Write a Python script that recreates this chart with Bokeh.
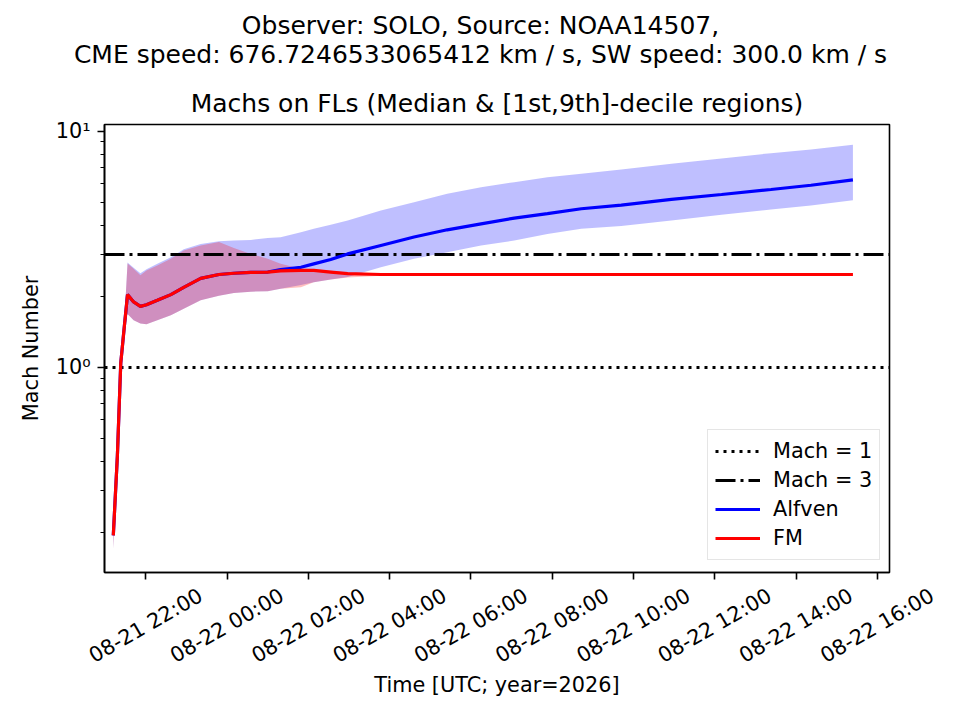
from datetime import datetime
import math
from bokeh.plotting import figure
from bokeh.layouts import column
from bokeh.models import Range1d, FixedTicker, CustomJSTickFormatter
from bokeh.core.properties import value
from bokeh.embed import file_html
from bokeh.resources import INLINE

# ---------------- data ----------------
title_line1 = "Observer: SOLO, Source: NOAA14507,"
title_line2 = "CME speed: 676.7246533065412 km / s, SW speed: 300.0 km / s"
axes_title = "Machs on FLs (Median & [1st,9th]-decile regions)"
x_label = "Time [UTC; year=2026]"
y_label = "Mach Number"

times = [
    "2026-08-21 21:12", "2026-08-21 21:18", "2026-08-21 21:23", "2026-08-21 21:28",
    "2026-08-21 21:33", "2026-08-21 21:42", "2026-08-21 21:52", "2026-08-21 22:01",
    "2026-08-21 22:17", "2026-08-21 22:37", "2026-08-21 22:56", "2026-08-21 23:21",
    "2026-08-21 23:48", "2026-08-22 00:10", "2026-08-22 00:35", "2026-08-22 01:00",
    "2026-08-22 01:19", "2026-08-22 01:49", "2026-08-22 02:08", "2026-08-22 02:33",
    "2026-08-22 02:58", "2026-08-22 03:47", "2026-08-22 04:36", "2026-08-22 05:25",
    "2026-08-22 06:15", "2026-08-22 07:04", "2026-08-22 07:53", "2026-08-22 08:43",
    "2026-08-22 09:42", "2026-08-22 10:56", "2026-08-22 12:10", "2026-08-22 13:23",
    "2026-08-22 14:22", "2026-08-22 15:24",
]

alfven_med = [0.194, 0.42, 1.04, 1.46, 2.03, 1.89, 1.81, 1.84, 1.92, 2.03, 2.18, 2.38,
              2.47, 2.50, 2.52, 2.53, 2.59, 2.65, 2.74, 2.86, 3.02, 3.28, 3.56, 3.82,
              4.05, 4.28, 4.47, 4.69, 4.86, 5.14, 5.39, 5.66, 5.90, 6.22]
alfven_lo = [0.17, 0.40, 1.00, 1.40, 1.68, 1.58, 1.53, 1.52, 1.58, 1.66, 1.77, 1.92,
             2.01, 2.06, 2.09, 2.10, 2.15, 2.23, 2.29, 2.35, 2.41, 2.65, 2.88, 3.07,
             3.28, 3.44, 3.67, 3.86, 3.96, 4.18, 4.42, 4.66, 4.84, 5.10]
alfven_hi = [0.21, 0.45, 1.08, 1.52, 2.78, 2.64, 2.50, 2.60, 2.74, 2.92, 3.16, 3.33,
             3.42, 3.44, 3.46, 3.53, 3.55, 3.73, 3.86, 4.01, 4.18, 4.61, 5.00, 5.43,
             5.79, 6.08, 6.38, 6.60, 6.88, 7.27, 7.66, 8.07, 8.36, 8.75]

fm_med = [0.194, 0.42, 1.04, 1.46, 2.03, 1.89, 1.81, 1.84, 1.92, 2.03, 2.18, 2.38,
          2.47, 2.50, 2.52, 2.53, 2.56, 2.57, 2.57, 2.53, 2.49, 2.47, 2.47, 2.47,
          2.47, 2.47, 2.47, 2.47, 2.47, 2.47, 2.47, 2.47, 2.47, 2.47]
fm_lo = [0.17, 0.40, 1.00, 1.40, 1.68, 1.58, 1.53, 1.52, 1.58, 1.66, 1.77, 1.92,
         2.01, 2.06, 2.09, 2.10, 2.15, 2.18, 2.29, 2.35, 2.40, 2.44, 2.45, 2.45,
         2.45, 2.45, 2.45, 2.45, 2.45, 2.45, 2.45, 2.45, 2.45, 2.45]
fm_hi = [0.21, 0.45, 1.08, 1.52, 2.75, 2.61, 2.45, 2.57, 2.70, 2.88, 3.12, 3.28,
         3.39, 3.20, 3.02, 2.88, 2.74, 2.61, 2.60, 2.56, 2.52, 2.50, 2.50, 2.50,
         2.50, 2.50, 2.50, 2.50, 2.50, 2.50, 2.50, 2.50, 2.50, 2.50]

mach_levels = [1.0, 3.0]
mach_labels = ["Mach = 1", "Mach = 3"]

x_tick_times = ["2026-08-21 22:00", "2026-08-22 00:00", "2026-08-22 02:00",
                "2026-08-22 04:00", "2026-08-22 06:00", "2026-08-22 08:00",
                "2026-08-22 10:00", "2026-08-22 12:00", "2026-08-22 14:00",
                "2026-08-22 16:00"]
x_tick_labels = ["08-21 22:00", "08-22 00:00", "08-22 02:00", "08-22 04:00",
                 "08-22 06:00", "08-22 08:00", "08-22 10:00", "08-22 12:00",
                 "08-22 14:00", "08-22 16:00"]
x_start = "2026-08-21 20:59"
x_end = "2026-08-22 16:18"
y_start, y_end = 0.135, 10.67
y_major = [1.0, 10.0]
y_major_labels = {1.0: "10\u2070", 10.0: "10\u00b9"}
y_minor = [0.2, 0.3, 0.4, 0.5, 0.6, 0.7, 0.8, 0.9, 2, 3, 4, 5, 6, 7, 8, 9]

# ---------------- helpers ----------------
FMT = "%Y-%m-%d %H:%M"
EPOCH = datetime(1970, 1, 1)


def to_dt(s):
    return datetime.strptime(s, FMT)


def to_ms(s):
    return (to_dt(s) - EPOCH).total_seconds() * 1000.0


t = [to_dt(s) for s in times]

FONT = "DejaVu Sans"
W = 944
FL, FR = 104, 55            # frame left / right borders
FW = W - FL - FR            # 785
FH = 448                    # frame height
TOP_H = 118                 # title strip
P_TOP, P_BOT = 6, 12        # main-figure borders above / below frame
BOT_H = 120                 # tick-label strip


def strip(height, x_range, y_range):
    f = figure(width=W, height=height, x_range=x_range, y_range=y_range,
               output_backend="svg", toolbar_location=None, min_border=0,
               x_axis_location=None, y_axis_location=None, frame_align=False)
    f.xgrid.visible = False
    f.ygrid.visible = False
    f.outline_line_color = None
    f.background_fill_color = "white"
    f.border_fill_color = "white"
    return f


# ---------------- title strip ----------------
top = strip(TOP_H, Range1d(0, W), Range1d(TOP_H, 0))
top.text(x=[480, 480], y=[25.3, 53.7], text=[title_line1, title_line2],
         text_font=value(FONT), text_font_size=value("25px"), text_color="black",
         text_align="center", text_baseline="alphabetic")
top.text(x=[FL + FW / 2], y=[103], text=[axes_title],
         text_font=value(FONT), text_font_size=value("25px"), text_color="black",
         text_align="center", text_baseline="alphabetic")

# ---------------- main plot ----------------
p = figure(width=W, height=P_TOP + FH + P_BOT, x_axis_type="datetime", y_axis_type="log",
           x_range=Range1d(to_dt(x_start), to_dt(x_end)),
           y_range=Range1d(y_start, y_end),
           output_backend="svg", toolbar_location=None, title=None,
           min_border_left=FL, min_border_right=FR,
           min_border_top=P_TOP, min_border_bottom=P_BOT, frame_align=False)
p.background_fill_color = "white"
p.border_fill_color = "white"
p.xgrid.visible = False
p.ygrid.visible = False
p.outline_line_color = "black"
p.outline_line_width = 1.6

# bands
p.varea(x=t, y1=alfven_lo, y2=alfven_hi, fill_color="blue", fill_alpha=0.25)
p.varea(x=t, y1=fm_lo, y2=fm_hi, fill_color="red", fill_alpha=0.25)

# reference Mach levels
p.hspan(y=[mach_levels[0]], line_color="black", line_width=3.1, line_dash="3 5",
        legend_label=mach_labels[0])
p.hspan(y=[mach_levels[1]], line_color="black", line_width=3.1, line_dash="20 5 3 5",
        legend_label=mach_labels[1])

# medians
p.line(x=t, y=alfven_med, line_color="blue", line_width=3.2, legend_label="Alfven")
p.line(x=t, y=fm_med, line_color="red", line_width=3.2, legend_label="FM")

# axes styling
for ax in (p.xaxis[0], p.yaxis[0]):
    ax.axis_line_color = "black"
    ax.axis_line_width = 1.6
    ax.major_tick_line_color = "black"
    ax.major_tick_line_width = 1.6
    ax.minor_tick_line_color = "black"
    ax.minor_tick_line_width = 1.2
    ax.major_tick_out = 7
    ax.major_tick_in = 0
    ax.minor_tick_out = 4
    ax.minor_tick_in = 0
    ax.major_label_text_font = FONT
    ax.major_label_text_font_size = "20.8px"
    ax.major_label_text_color = "black"
    ax.axis_label_text_font = FONT
    ax.axis_label_text_font_size = "20.8px"
    ax.axis_label_text_font_style = "normal"
    ax.axis_label_text_color = "black"

p.xaxis.ticker = FixedTicker(ticks=[to_ms(s) for s in x_tick_times], minor_ticks=[])
p.xaxis.formatter = CustomJSTickFormatter(code="return '';")
p.xaxis.major_label_standoff = 0
p.xaxis.major_label_text_font_size = "1px"

p.yaxis.ticker = FixedTicker(ticks=y_major, minor_ticks=y_minor)
p.yaxis.major_label_overrides = y_major_labels
p.yaxis.major_label_standoff = 7
p.yaxis.axis_label = y_label
p.yaxis.axis_label_standoff = 10

# legend
lg = p.legend[0]
lg.location = (603, 12)
lg.label_text_font = FONT
lg.label_text_font_size = "20.8px"
lg.label_text_color = "black"
lg.glyph_width = 45
lg.glyph_height = 28
lg.label_height = 28
lg.label_standoff = 13
lg.spacing = 1
lg.padding = 7
lg.margin = 0
lg.border_line_color = "#cccccc"
lg.border_line_width = 1.2
lg.background_fill_color = "white"
lg.background_fill_alpha = 0.8

# ---------------- tick-label strip (same time scale as the main plot) ----------------
ms0, ms1 = to_ms(x_start), to_ms(x_end)
mpp = (ms1 - ms0) / FW
bot = strip(BOT_H, Range1d(ms0 - FL * mpp, ms0 + (W - FL) * mpp), Range1d(BOT_H, 0))
bot.text(x=[to_ms(s) for s in x_tick_times], y=[41] * len(x_tick_times),
         text=x_tick_labels, angle=math.pi / 6,
         text_font=value(FONT), text_font_size=value("20.8px"), text_color="black",
         text_align="center", text_baseline="middle")
bot.text(x=[(ms0 + ms1) / 2], y=[100.5], text=[x_label],
         text_font=value(FONT), text_font_size=value("20.8px"), text_color="black",
         text_align="center", text_baseline="alphabetic")

layout = column(top, p, bot, spacing=0)
open("out.html", "w").write(file_html(layout, INLINE))
